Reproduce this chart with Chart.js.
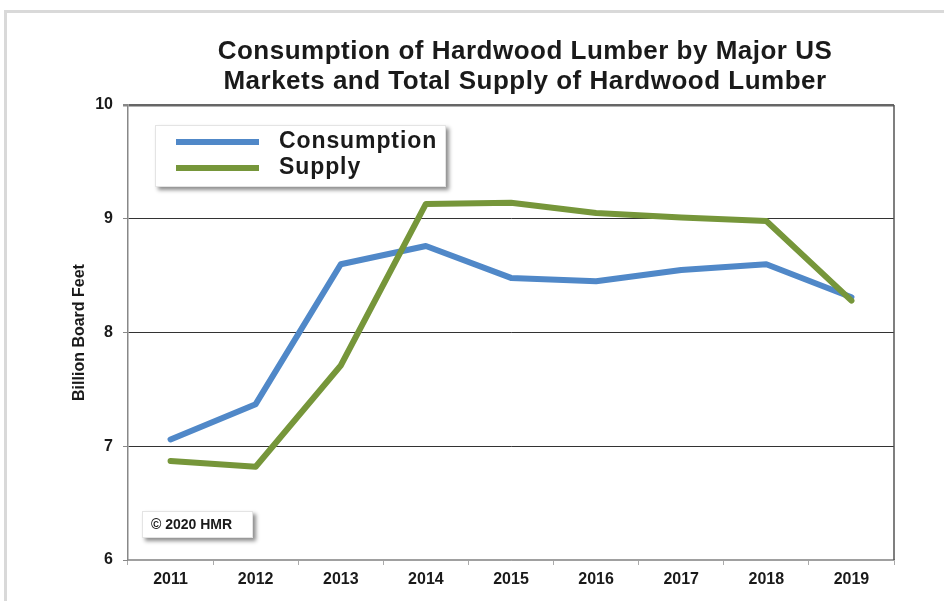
<!DOCTYPE html>
<html>
<head>
<meta charset="utf-8">
<script src="https://cdn.jsdelivr.net/npm/chart.js@4"></script>
<style>
    body { margin: 0; background: #fff; }
    #wrap { position: relative; width: 944px; height: 601px; overflow: hidden; }
    #frame { position: absolute; left: 4px; top: 10px; width: 980px; height: 640px;
             border-left: 3px solid #d9d9d9; border-top: 3px solid #d9d9d9; }
    canvas { position: absolute; left: 0; top: 0; }
</style>
</head>
<body>
<div id="wrap">
    <div id="frame"></div>
    <canvas id="grafico" width="944" height="601"></canvas>
</div>
<script>
// dati
const anni = ['2011', '2012', '2013', '2014', '2015', '2016', '2017', '2018', '2019']
const consumo = [7.06, 7.37, 8.60, 8.76, 8.48, 8.45, 8.55, 8.60, 8.31]
const offerta = [6.87, 6.82, 7.71, 9.13, 9.14, 9.05, 9.01, 8.98, 8.28]
const titolo = ['Consumption of Hardwood Lumber by Major US', 'Markets and Total Supply of Hardwood Lumber']
const etichetteSerie = ['Consumption', 'Supply']
const titoloAsseY = 'Billion Board Feet'
const copyright = '\u00A9 2020 HMR'

const BLU = '#5088c8'
const VERDE = '#76963a'
const FONT = "'Liberation Sans', Arial, sans-serif"

// riquadro bianco con ombra morbida
function riquadro(ctx, x, y, w, h) {
    ctx.save()
    ctx.shadowColor = 'rgba(0,0,0,0.45)'
    ctx.shadowBlur = 4
    ctx.shadowOffsetX = 3
    ctx.shadowOffsetY = 3
    ctx.fillStyle = '#fff'
    ctx.fillRect(x, y, w, h)
    ctx.restore()
    ctx.strokeStyle = '#e4e4e4'
    ctx.lineWidth = 1
    ctx.strokeRect(x + 0.5, y + 0.5, w - 1, h - 1)
}

// titolo, legenda, riquadro copyright, bordo destro
const decorazioni = {
    id: 'decorazioni',
    afterDraw(chart) {
        const ctx = chart.ctx
        const area = chart.chartArea
        ctx.save()

        // bordo destro
        ctx.strokeStyle = '#555'
        ctx.lineWidth = 1.5
        ctx.beginPath()
        ctx.moveTo(area.right, area.top)
        ctx.lineTo(area.right, area.bottom)
        ctx.stroke()

        // titolo
        ctx.fillStyle = '#1a1a1a'
        ctx.font = 'bold 26px ' + FONT
        ctx.letterSpacing = '0.5px'
        ctx.textAlign = 'center'
        ctx.textBaseline = 'middle'
        ctx.fillText(titolo[0], 525, 52)
        ctx.fillText(titolo[1], 525, 82)

        // legenda
        riquadro(ctx, 155, 125, 291, 62)
        const serie = chart.data.datasets
        const yLeg = [142, 168]
        ctx.font = 'bold 23px ' + FONT
        ctx.letterSpacing = '0.9px'
        ctx.textAlign = 'left'
        serie.forEach((ds, i) => {
            ctx.strokeStyle = ds.borderColor
            ctx.lineWidth = 6
            ctx.lineCap = 'butt'
            ctx.beginPath()
            ctx.moveTo(176, yLeg[i])
            ctx.lineTo(259, yLeg[i])
            ctx.stroke()
            ctx.fillStyle = '#1a1a1a'
            ctx.fillText(ds.label, 279, yLeg[i])
        })

        // copyright
        riquadro(ctx, 142, 511, 111, 27)
        ctx.fillStyle = '#1a1a1a'
        ctx.font = 'bold 14px ' + FONT
        ctx.letterSpacing = '0px'
        ctx.fillText(copyright, 151, 525)

        ctx.restore()
    }
}

new Chart(document.getElementById('grafico'), {
    type: 'line',
    data: {
        labels: anni,
        datasets: [
            {
                label: etichetteSerie[0],
                data: consumo,
                borderColor: BLU,
                borderWidth: 6,
                borderCapStyle: 'round',
                borderJoinStyle: 'round',
                pointRadius: 0,
                tension: 0,
                order: 2
            },
            {
                label: etichetteSerie[1],
                data: offerta,
                borderColor: VERDE,
                borderWidth: 6,
                borderCapStyle: 'round',
                borderJoinStyle: 'round',
                pointRadius: 0,
                tension: 0,
                order: 1
            }
        ]
    },
    options: {
        responsive: false,
        animation: false,
        layout: { padding: { top: 105, right: 50, bottom: 0, left: 0 } },
        plugins: {
            legend: { display: false },
            title: { display: false },
            tooltip: { enabled: false }
        },
        scales: {
            x: {
                offset: true,
                afterFit: (scale) => { scale.height = 41 },
                grid: {
                    offset: true,
                    drawOnChartArea: false,
                    tickLength: 5,
                    tickColor: '#aaa'
                },
                border: { color: '#a0a0a0', width: 1.5 },
                ticks: {
                    color: '#1a1a1a',
                    padding: 5,
                    font: { family: FONT, size: 16, weight: 'bold' }
                }
            },
            y: {
                min: 6,
                max: 10,
                afterFit: (scale) => { scale.width = 128 },
                grid: {
                    tickLength: 5,
                    tickColor: '#888',
                    color: (c) => c.tick.value === 10 ? '#666' : (c.tick.value === 6 ? '#a0a0a0' : '#333'),
                    lineWidth: (c) => c.tick.value === 10 ? 2.5 : 1
                },
                border: { color: '#888', width: 1.5 },
                ticks: {
                    stepSize: 1,
                    color: '#1a1a1a',
                    padding: 10,
                    font: { family: FONT, size: 16, weight: 'bold' }
                },
                title: {
                    display: true,
                    text: titoloAsseY,
                    color: '#1a1a1a',
                    padding: { top: 70, bottom: 0 },
                    font: { family: FONT, size: 16, weight: 'bold' }
                }
            }
        }
    },
    plugins: [decorazioni]
})
</script>
</body>
</html>
